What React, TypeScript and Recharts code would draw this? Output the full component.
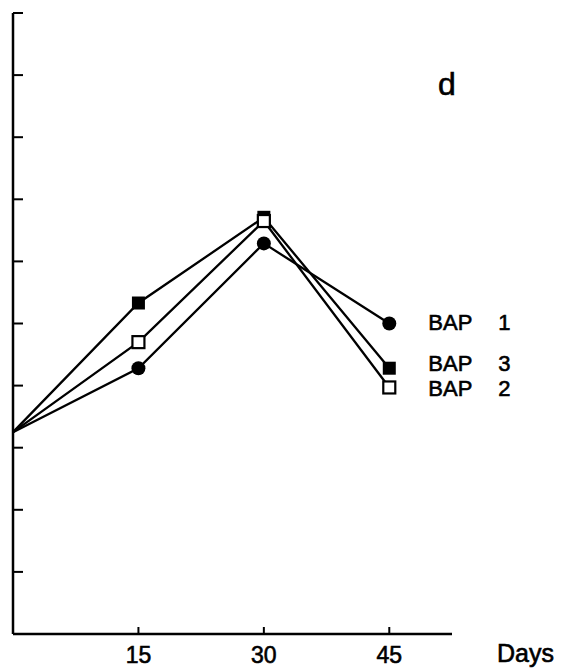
import React from 'react';
import { LineChart, Line, XAxis, YAxis, LabelList } from 'recharts';

// Sampling days and measured values (arbitrary units, one unit per y tick)
const days = [0, 15, 30, 45];
const bap1 = [3.25, 4.28, 6.29, 5.0];
const bap2 = [3.25, 4.7, 6.65, 3.97];
const bap3 = [3.25, 5.33, 6.71, 4.28];
const xTicks = [15, 30, 45];
const yTicks = [0, 1, 2, 3, 4, 5, 6, 7, 8, 9, 10];

const FONT = '"Liberation Sans", Arial, sans-serif';
const INK = '#000';

const data = days.map((d, i) => ({ day: d, bap1: bap1[i], bap2: bap2[i], bap3: bap3[i] }));

const XTick = ({ x, y, payload }: any) => (
  <g>
    <line x1={x} x2={x} y1={y} y2={y - 7} stroke={INK} strokeWidth={2} />
    <text
      x={x}
      y={y + 29}
      textAnchor="middle"
      fontSize={23}
      fontFamily={FONT}
      fill={INK}
      stroke={INK}
      strokeWidth={0.6}
    >
      {payload.value}
    </text>
  </g>
);

const YTick = ({ x, y }: any) => (
  <line x1={x} x2={x + 10} y1={y} y2={y} stroke={INK} strokeWidth={2} />
);

// markers: nothing at day 0, where all curves start together
const circleDot = ({ cx, cy, index }: any) =>
  index === 0 ? <g key={index} /> : <circle key={index} cx={cx} cy={cy} r={7} fill={INK} />;

const openSquareDot = ({ cx, cy, index }: any) =>
  index === 0 ? (
    <g key={index} />
  ) : (
    <rect key={index} x={cx - 6} y={cy - 6} width={12} height={12} fill="#fff" stroke={INK} strokeWidth={2.2} />
  );

const filledSquareDot = ({ cx, cy, index }: any) =>
  index === 0 ? <g key={index} /> : <rect key={index} x={cx - 6.5} y={cy - 6.5} width={13} height={13} fill={INK} />;

const seriesLabel = (num: string, dy: number) => (props: any) => {
  const { x, y, index } = props;
  if (index !== days.length - 1) return null;
  const textProps = {
    fontSize: 22,
    fontFamily: FONT,
    fill: INK,
    stroke: INK,
    strokeWidth: 0.6,
  };
  return (
    <g>
      <text x={x + 39} y={y + dy + 8} {...textProps}>
        BAP
      </text>
      <text x={x + 109} y={y + dy + 8} {...textProps}>
        {num}
      </text>
    </g>
  );
};

export default function App() {
  return (
    <div style={{ position: 'absolute', left: 0, top: 0, width: 561, height: 672, background: '#fff' }}>
      <LineChart width={561} height={672} data={data} margin={{ top: 13, right: 109, left: 0, bottom: 0 }}>
        <XAxis
          dataKey="day"
          type="number"
          domain={[0, 52.5]}
          ticks={xTicks}
          height={38}
          tickSize={0}
          tickMargin={0}
          tickLine={false}
          tick={<XTick />}
          axisLine={{ stroke: INK, strokeWidth: 2.5 }}
        />
        <YAxis
          type="number"
          domain={[0, 10]}
          ticks={yTicks}
          width={13}
          tickSize={0}
          tickMargin={0}
          tickLine={false}
          tick={<YTick />}
          axisLine={{ stroke: INK, strokeWidth: 2.5 }}
        />
        <Line dataKey="bap1" type="linear" stroke={INK} strokeWidth={2.3} dot={circleDot} isAnimationActive={false}>
          <LabelList dataKey="bap1" content={seriesLabel('1', -2)} />
        </Line>
        <Line dataKey="bap3" type="linear" stroke={INK} strokeWidth={2.3} dot={filledSquareDot} isAnimationActive={false}>
          <LabelList dataKey="bap3" content={seriesLabel('3', -5)} />
        </Line>
        <Line dataKey="bap2" type="linear" stroke={INK} strokeWidth={2.3} dot={openSquareDot} isAnimationActive={false}>
          <LabelList dataKey="bap2" content={seriesLabel('2', 1)} />
        </Line>
      </LineChart>
      <div
        style={{
          position: 'absolute',
          left: 438,
          top: 66,
          fontSize: 32,
          fontFamily: FONT,
          lineHeight: '36px',
          WebkitTextStroke: '0.6px #000',
        }}
      >
        d
      </div>
      <div
        style={{
          position: 'absolute',
          left: 497,
          top: 639,
          fontSize: 25,
          fontFamily: FONT,
          lineHeight: '28px',
          WebkitTextStroke: '0.6px #000',
        }}
      >
        Days
      </div>
    </div>
  );
}
